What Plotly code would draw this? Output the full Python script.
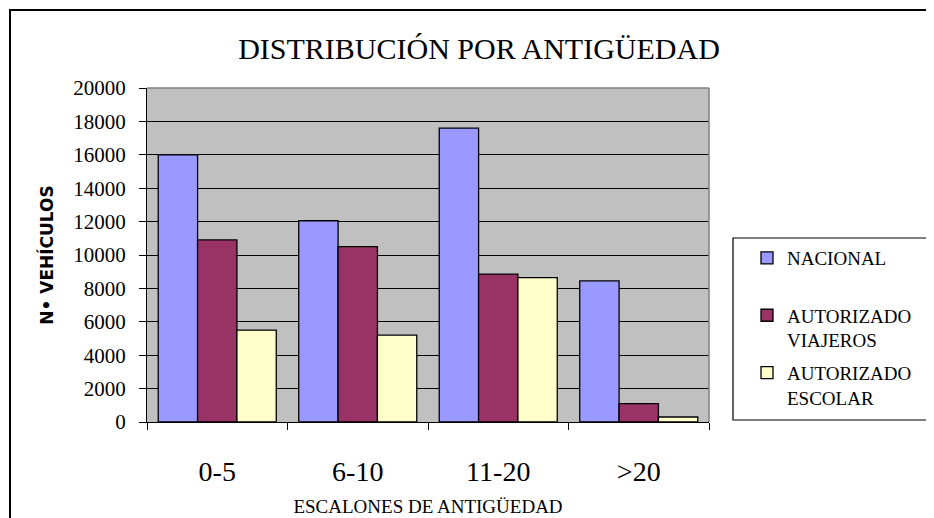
import plotly.graph_objects as go

categories = ["0-5", "6-10", "11-20", ">20"]
nacional = [16000, 12050, 17600, 8450]
viajeros = [10900, 10500, 8850, 1100]
escolar = [5500, 5200, 8650, 300]
series_names = ["NACIONAL<br> ", "AUTORIZADO<br>VIAJEROS", "AUTORIZADO<br>ESCOLAR"]
colors = ["#9999FF", "#993366", "#FFFFCC"]

W, H = 934, 518
OFF = 8  # page body margin offset in the screenshot
# plot area in screenshot coordinates: x 147..709, y 88..422
L, R, T, B = 147 - OFF, W - (709 - OFF), 88 - OFF, H - (422 - OFF)
pw, ph = W - L - R, H - T - B

def px(x):
    return (x - OFF - L) / pw

def py(y):
    return (H - B - (y - OFF)) / ph

fig = go.Figure()
for i, (name, vals) in enumerate(zip(series_names, [nacional, viajeros, escolar])):
    fig.add_trace(go.Bar(
        x=categories, y=vals, name=name, legendgroup=f"g{i}",
        marker=dict(color=colors[i], line=dict(color="black", width=1.3)),
        hoverinfo="skip",
    ))

serif = "Liberation Serif"

fig.update_layout(
    width=W, height=H,
    margin=dict(l=L, r=R, t=T, b=B),
    paper_bgcolor="white", plot_bgcolor="#C0C0C0",
    barmode="group", bargap=0.16, bargroupgap=0,
    font=dict(family=serif, color="black"),
    title=dict(text="DISTRIBUCIÓN POR ANTIGÜEDAD", xref="container", x=(479 - OFF) / W,
               xanchor="center", yref="container", y=1 - (48 - OFF) / H, yanchor="middle",
               font=dict(size=30, family=serif, color="black")),
    showlegend=True,
    legend=dict(x=px(747), y=py(239), xanchor="left", yanchor="top",
                bgcolor="rgba(0,0,0,0)", borderwidth=0, valign="top",
                font=dict(size=19, family=serif, color="black"), tracegroupgap=5,
                traceorder="grouped", itemwidth=30),
    xaxis=dict(
        showline=True, linecolor="black", linewidth=1,
        ticks="outside", ticklen=7, tickcolor="black", tickson="boundaries",
        tickfont=dict(size=28, family=serif, color="black"), ticklabelstandoff=24,
        title=dict(text="ESCALONES DE ANTIGÜEDAD",
                   font=dict(size=19, family=serif, color="black"), standoff=14),
        showgrid=False,
    ),
    yaxis=dict(
        range=[0, 20000], dtick=2000, tickformat="d",
        showline=True, linecolor="black", linewidth=1,
        ticks="outside", ticklen=7, tickcolor="black",
        showgrid=True, gridcolor="black", gridwidth=1,
        tickfont=dict(size=21, family=serif, color="black"), ticklabelstandoff=9,
        title=dict(text="N• VEHÍCULOS",
                   font=dict(size=17, family="DejaVu Sans", weight="bold", color="black"),
                   standoff=15),
        zeroline=False,
    ),
    shapes=[
        dict(type="rect", xref="paper", yref="paper", x0=px(10), x1=px(960), y0=py(540), y1=py(10),
             line=dict(color="black", width=2), fillcolor="rgba(0,0,0,0)", layer="above"),
        dict(type="line", xref="paper", yref="paper", x0=0, x1=1, y0=1, y1=1,
             line=dict(color="#808080", width=1.5), layer="above"),
        dict(type="line", xref="paper", yref="paper", x0=1, x1=1, y0=0, y1=1,
             line=dict(color="#808080", width=1.5), layer="above"),
        dict(type="rect", xref="paper", yref="paper", x0=px(733), x1=px(960), y0=py(420), y1=py(238),
             line=dict(color="black", width=1.2), fillcolor="rgba(0,0,0,0)", layer="above"),
    ],
)

fig.write_html("out.html")
